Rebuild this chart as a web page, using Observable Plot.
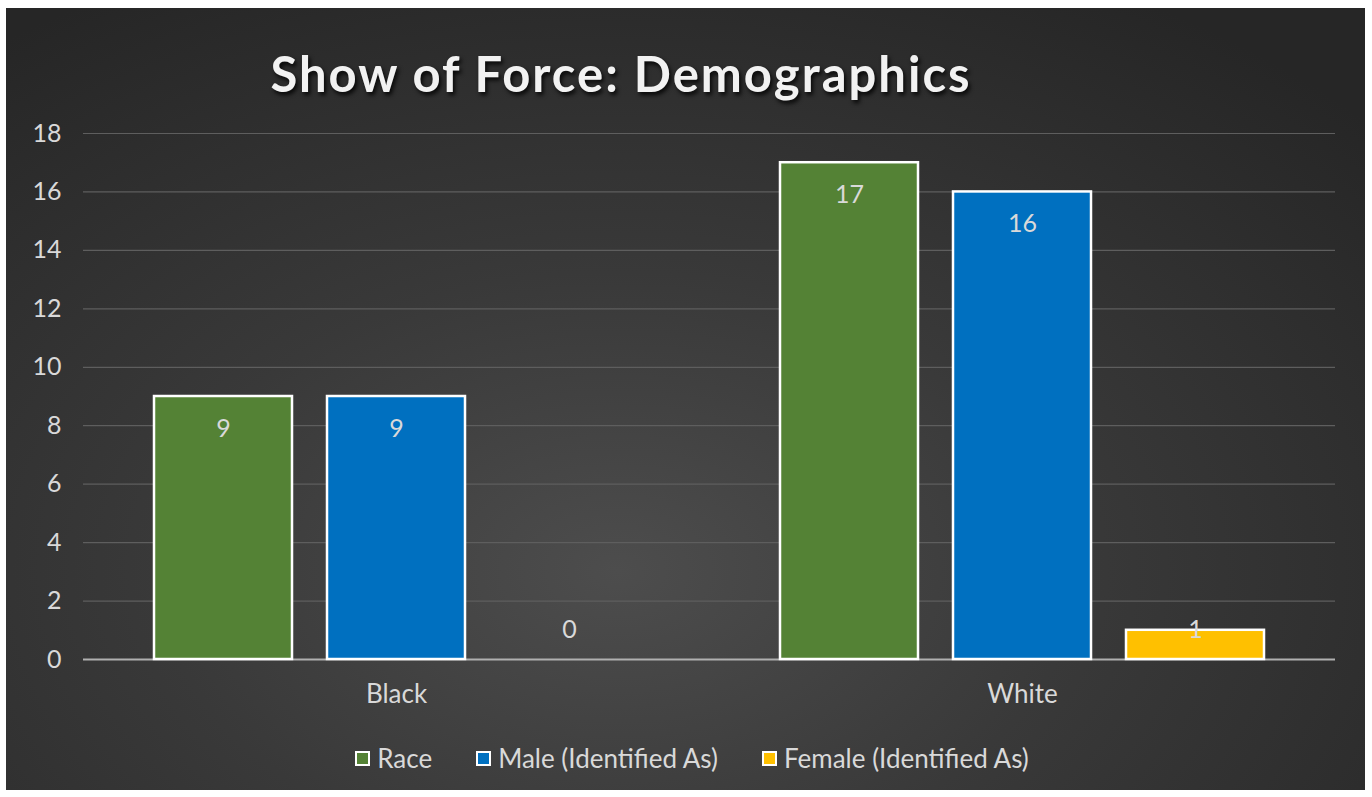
<!DOCTYPE html>
<html>
<head>
<meta charset="utf-8">
<script src="https://cdn.jsdelivr.net/npm/d3@7"></script>
<script src="https://cdn.jsdelivr.net/npm/@observablehq/plot@0.6"></script>
<style>
  html, body { margin: 0; padding: 0; background: #ffffff; }
  #frame {
    position: absolute; left: 6px; top: 8px; width: 1359px; height: 782px;
    background: radial-gradient(ellipse 75% 85% at 45% 72%, #4d4d4d 0%, #393939 45%, #262626 100%);
    overflow: hidden;
    font-family: Lato, "Open Sans", sans-serif;
  }
  #title {
    position: absolute; left: 0; top: 36px; width: 1230px; text-align: center;
    font-size: 49px; font-weight: bold; color: #f2f2f2; letter-spacing: 2px;
    text-shadow: 2px 3px 4px rgba(0,0,0,0.85);
  }
  #chart { position: absolute; left: 0; top: 92px; }
  #legend {
    position: absolute; left: 0; top: 734px; width: 1372px; display: flex; justify-content: center;
    gap: 44px; color: #d9d9d9; font-size: 26px; align-items: center;
  }
  .item { display: flex; align-items: center; gap: 7px; }
  .sw { width: 11px; height: 11px; border: 2px solid #ffffff; display: inline-block; }
</style>
</head>
<body>
<div id="frame">
  <div id="title">Show of Force: Demographics</div>
  <div id="chart"></div>
  <div id="legend"></div>
</div>
<script>
const categories = ["Black", "White"];
const seriesNames = ["Race", "Male (Identified As)", "Female (Identified As)"];
const seriesColors = ["#548235", "#0070C0", "#FFC000"];
const raceValues = [9, 17];
const maleValues = [9, 16];
const femaleValues = [0, 1];
const yTicks = [0, 2, 4, 6, 8, 10, 12, 14, 16, 18];

const allValues = [raceValues, maleValues, femaleValues];
const data = [];
categories.forEach((c, i) => {
  seriesNames.forEach((s, j) => {
    data.push({category: c, series: s, value: allValues[j][i]});
  });
});

const chart = Plot.plot({
  width: 1359,
  height: 628,
  marginLeft: 76,
  marginRight: 30,
  marginTop: 33,
  marginBottom: 69,
  style: {background: "transparent", color: "#d9d9d9", fontFamily: "Lato, 'Open Sans', sans-serif"},
  fx: {domain: categories, padding: 0, label: null},
  x: {domain: seriesNames, paddingInner: 0.2, paddingOuter: 0.4, axis: null},
  y: {domain: [0, 18], label: null},
  color: {domain: seriesNames, range: seriesColors},
  marks: [
    Plot.gridY(yTicks, {stroke: "#5e5e5e", strokeOpacity: 1, strokeWidth: 1.2}),
    Plot.axisY(yTicks, {tickSize: 0, tickPadding: 22, fontSize: 25, fill: "#d9d9d9", label: null}),
    Plot.axisFx({anchor: "bottom", tickSize: 0, tickPadding: 25, fontSize: 26, fill: "#d9d9d9", label: null}),
    Plot.ruleY([0], {stroke: "#b0b0b0", strokeWidth: 2}),
    Plot.barY(data, {fx: "category", x: "series", y: "value", fill: "series", stroke: "#ffffff", strokeWidth: 2.5}),
    Plot.text(data, {
      fx: "category", x: "series",
      y: d => Math.max(d.value - 1.1, 1.0),
      text: d => String(d.value),
      fill: "#d9d9d9", fontSize: 25, lineAnchor: "middle"
    })
  ]
});
document.getElementById("chart").appendChild(chart);

const legend = document.getElementById("legend");
seriesNames.forEach((s, i) => {
  const item = document.createElement("div");
  item.className = "item";
  const sw = document.createElement("span");
  sw.className = "sw";
  sw.style.background = seriesColors[i];
  const t = document.createElement("span");
  t.textContent = s;
  item.appendChild(sw);
  item.appendChild(t);
  legend.appendChild(item);
});
</script>
</body>
</html>
